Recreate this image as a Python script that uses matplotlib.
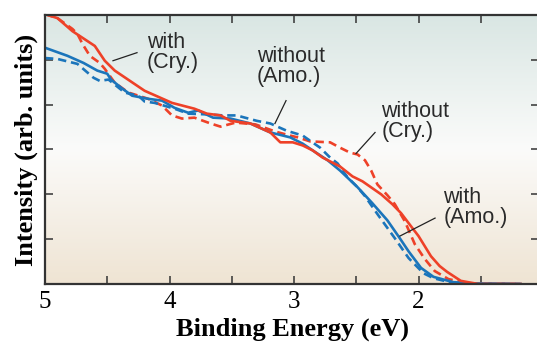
import numpy as np
import matplotlib
matplotlib.use("Agg")
import matplotlib.pyplot as plt
from matplotlib.colors import LinearSegmentedColormap

plt.rcParams['lines.scale_dashes'] = False

# ---------------- data ----------------
red_solid_x = [5.00, 4.90, 4.78, 4.60, 4.52, 4.44, 4.20, 3.98, 3.80, 3.70, 3.59, 3.51, 3.35, 3.19, 3.11,
               3.01, 2.93, 2.85, 2.77, 2.63, 2.53, 2.45, 2.30, 2.21, 2.14, 2.08, 2.00, 1.90, 1.83, 1.77,
               1.66, 1.52, 1.18]
red_solid_y = [6.02, 5.93, 5.64, 5.31, 4.98, 4.76, 4.31, 4.04, 3.91, 3.80, 3.76, 3.64, 3.58, 3.38, 3.16,
               3.16, 3.09, 2.98, 2.82, 2.62, 2.40, 2.29, 2.00, 1.78, 1.58, 1.36, 1.07, 0.62, 0.40, 0.27,
               0.07, 0.00, 0.00]

red_dash_x = [5.00, 4.90, 4.78, 4.74, 4.70, 4.64, 4.56, 4.52, 4.44, 4.33, 4.17, 4.06, 3.98, 3.90, 3.80,
              3.67, 3.59, 3.47, 3.31, 3.15, 3.03, 2.97, 2.87, 2.71, 2.63, 2.55, 2.49, 2.43, 2.38, 2.33,
              2.25, 2.19, 2.11, 2.03, 1.95, 1.87, 1.76, 1.60, 1.22]
red_dash_y = [6.02, 5.93, 5.69, 5.58, 5.36, 5.09, 4.93, 4.80, 4.49, 4.27, 4.13, 3.98, 3.76, 3.69, 3.71,
              3.58, 3.51, 3.60, 3.56, 3.40, 3.31, 3.27, 3.18, 3.16, 3.04, 2.93, 2.89, 2.76, 2.53, 2.22,
              1.98, 1.78, 1.40, 0.89, 0.56, 0.29, 0.11, 0.01, 0.00]

blue_solid_x = [5.00, 4.82, 4.69, 4.58, 4.50, 4.47, 4.38, 4.30, 4.17, 4.06, 3.96, 3.85, 3.77, 3.65, 3.51,
                3.35, 3.19, 3.03, 2.93, 2.85, 2.73, 2.63, 2.49, 2.37, 2.25, 2.15, 2.08, 1.98, 1.88, 1.72,
                1.56, 1.18]
blue_solid_y = [5.27, 5.09, 4.93, 4.76, 4.69, 4.56, 4.36, 4.20, 4.13, 4.09, 3.93, 3.82, 3.87, 3.71, 3.69,
                3.58, 3.38, 3.27, 3.13, 2.98, 2.76, 2.53, 2.16, 1.80, 1.42, 1.02, 0.73, 0.36, 0.16, 0.04,
                0.01, 0.00]

blue_dash_x = [5.00, 4.90, 4.74, 4.61, 4.56, 4.49, 4.36, 4.25, 4.20, 4.12, 3.96, 3.85, 3.67, 3.57, 3.46,
               3.30, 3.19, 3.06, 2.93, 2.79, 2.71, 2.65, 2.61, 2.57, 2.49, 2.43, 2.33, 2.19, 2.08, 1.96,
               1.88, 1.75, 1.59, 1.18]
blue_dash_y = [5.04, 5.02, 4.91, 4.60, 4.53, 4.56, 4.27, 4.20, 4.07, 4.04, 3.91, 3.80, 3.78, 3.76, 3.76,
               3.64, 3.58, 3.42, 3.31, 3.04, 2.82, 2.69, 2.53, 2.38, 2.16, 1.96, 1.56, 1.02, 0.58, 0.24,
               0.13, 0.04, 0.01, 0.00]

x_major_ticks = [5, 4, 3, 2]
x_tick_labels = ["5", "4", "3", "2"]
x_minor_ticks = [4.5, 3.5, 2.5, 1.5]
y_ticks = [1, 2, 3, 4, 5]

labels = ["with\n(Cry.)", "without\n(Amo.)", "without\n(Cry.)", "with\n(Amo.)"]
label_pos = [(4.18, 5.62), (3.30, 5.31), (2.30, 4.08), (1.80, 2.17)]
pointer_from = [(4.454, 4.98), (3.153, 3.58), (2.502, 2.91), (2.149, 1.07)]
pointer_to = [(4.261, 5.16), (3.064, 4.09), (2.349, 3.38), (1.867, 1.47)]

RED = "#ee4128"
BLUE = "#1b75bb"

# ---------------- figure ----------------
fig = plt.figure(figsize=(5.37, 3.42), dpi=100)
ax = fig.add_axes([45 / 537, 1 - 284 / 342, (539 - 45) / 537, (284 - 15) / 342])

# background gradient
bg = LinearSegmentedColormap.from_list("bg", [(0.0, "#efe4d3"), (0.5, "#fbfbfa"), (1.0, "#d9e6e3")])
grad = np.linspace(0, 1, 256).reshape(-1, 1)
ax.imshow(grad, cmap=bg, origin="lower", extent=[0, 1, 0, 1], transform=ax.transAxes,
          aspect="auto", zorder=0)

lw = 1.9
ax.plot(red_dash_x, red_dash_y, color=RED, lw=lw, dashes=(6, 3.5), zorder=2)
ax.plot(blue_dash_x, blue_dash_y, color=BLUE, lw=lw, dashes=(6, 3.5), zorder=2)
ax.plot(blue_solid_x, blue_solid_y, color=BLUE, lw=lw, zorder=3)
ax.plot(red_solid_x, red_solid_y, color=RED, lw=lw, zorder=3)

ax.set_xlim(5, 5 - (539 - 45) / 124.5)
ax.set_ylim(0, 6)

ax.set_xticks(x_major_ticks)
ax.set_xticklabels(x_tick_labels, fontfamily="Liberation Serif", fontsize=18)
ax.set_xticks(x_minor_ticks, minor=True)
ax.set_yticks(y_ticks)
ax.set_yticklabels([])
ax.tick_params(axis="both", which="both", direction="in", length=5.5, width=1.1,
               color="#333333", top=True, right=True)
ax.tick_params(axis="x", which="major", pad=5)

for s in ax.spines.values():
    s.set_linewidth(1.6)
    s.set_color("#333333")
    s.set_zorder(5)

ax.set_xlabel("Binding Energy (eV)", fontfamily="Liberation Serif", fontweight="bold",
              fontsize=19, labelpad=3)
ax.set_ylabel("Intensity (arb. units)", fontfamily="Liberation Serif", fontweight="bold",
              fontsize=19, labelpad=1.5)

txt_family = ["Liberation Sans Narrow", "Liberation Sans"]
for lab, (tx, ty), p0, p1 in zip(labels, label_pos, pointer_from, pointer_to):
    ax.text(tx, ty, lab, ha="left", va="top", fontsize=15.5, family=txt_family,
            color="#2a2a2a", linespacing=0.95, zorder=6)
    ax.plot([p0[0], p1[0]], [p0[1], p1[1]], color="#222222", lw=0.9, zorder=6)

fig.savefig("out.png", dpi=100)
